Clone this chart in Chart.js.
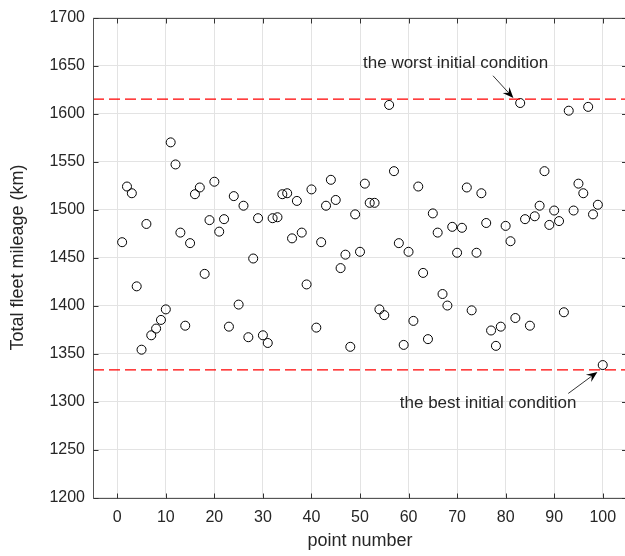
<!DOCTYPE html>
<html>
<head>
<meta charset="utf-8">
<script src="https://cdn.jsdelivr.net/npm/chart.js@4.4.1/dist/chart.umd.min.js"></script>
<style>
  html, body { margin: 0; padding: 0; background: #ffffff; overflow: hidden; }
  #wrap { width: 625px; height: 556px; overflow: hidden; position: relative; }
  canvas { display: block; }
</style>
</head>
<body>
<div id="wrap"><canvas id="c" width="640" height="556"></canvas></div>
<script>
// ---- data ----
const pointNumbers = [1,2,3,4,5,6,7,8,9,10,11,12,13,14,15,16,17,18,19,20,
  21,22,23,24,25,26,27,28,29,30,31,32,33,34,35,36,37,38,39,40,
  41,42,43,44,45,46,47,48,49,50,51,52,53,54,55,56,57,58,59,60,
  61,62,63,64,65,66,67,68,69,70,71,72,73,74,75,76,77,78,79,80,
  81,82,83,84,85,86,87,88,89,90,91,92,93,94,95,96,97,98,99,100];
const mileage = [1466,1524,1517,1420,1354,1485,1369,1376,1385,1396,
  1570,1547,1476,1379,1465,1516,1523,1433,1489,1529,
  1477,1490,1378,1514,1401,1504,1367,1449,1491,1369,
  1361,1491,1492,1516,1517,1470,1509,1476,1422,1521,
  1377,1466,1504,1531,1510,1439,1453,1357,1495,1456,
  1527,1507,1507,1396,1390,1609,1540,1465,1359,1456,
  1384,1524,1434,1365,1496,1476,1412,1400,1482,1455,
  1481,1523,1395,1455,1517,1486,1374,1358,1378,1483,
  1467,1387,1611,1490,1379,1493,1504,1540,1484,1499,
  1488,1393,1603,1499,1527,1517,1607,1495,1505,1338];
const worstLevel = 1615;
const bestLevel = 1333;
const xRange = [-5, 105];
const yRange = [1200, 1700];
const xTickLabels = [0,10,20,30,40,50,60,70,80,90,100];
const yTickLabels = [1200,1250,1300,1350,1400,1450,1500,1550,1600,1650,1700];
const xTitle = 'point number';
const yTitle = 'Total fleet mileage (km)';
// annotations in data units: text position, arrow start, arrow tip
const annotations = [
  { text: 'the worst initial condition', tx: 69.7, ty: 1652.6, ax0: 77.4, ay0: 1639.4, ax1: 81.6, ay1: 1616.2 },
  { text: 'the best initial condition',  tx: 76.4, ty: 1298.0, ax0: 92.9, ay0: 1308.4, ax1: 98.9, ay1: 1330.8 }
];

const FONT = '"Liberation Sans", Arial, Helvetica, sans-serif';
const TXT = '#262626';
const GRID = '#e3e3e3';

const overlay = {
  id: 'overlay',
  afterDraw(chart) {
    const ctx = chart.ctx;
    const xs = chart.scales.x, ys = chart.scales.y;
    const a = chart.chartArea;
    const xEnd = xs.getPixelForValue(xRange[1]);
    ctx.save();
    ctx.strokeStyle = '#555555';
    ctx.lineWidth = 1;
    const L0 = Math.round(a.left) + 0.5, T0 = Math.round(a.top) + 0.5, B0 = Math.round(a.bottom) + 0.5;
    ctx.beginPath();
    ctx.moveTo(xEnd, T0); ctx.lineTo(L0, T0); ctx.lineTo(L0, B0); ctx.lineTo(xEnd, B0);
    ctx.stroke();
    ctx.strokeStyle = '#333333';
    ctx.beginPath();
    xTickLabels.forEach(v => {
      const px = Math.round(xs.getPixelForValue(v)) + 0.5;
      ctx.moveTo(px, B0); ctx.lineTo(px, B0 - 5);
      ctx.moveTo(px, T0); ctx.lineTo(px, T0 + 5);
    });
    yTickLabels.forEach(v => {
      const py = Math.round(ys.getPixelForValue(v)) + 0.5;
      ctx.moveTo(L0, py); ctx.lineTo(L0 + 5, py);
      ctx.moveTo(xEnd, py); ctx.lineTo(xEnd - 5, py);
    });
    ctx.stroke();
    annotations.forEach(an => {
      ctx.fillStyle = TXT;
      ctx.font = '17px ' + FONT;
      ctx.textAlign = 'center';
      ctx.textBaseline = 'middle';
      ctx.fillText(an.text, xs.getPixelForValue(an.tx), ys.getPixelForValue(an.ty));
      const x0 = xs.getPixelForValue(an.ax0), y0 = ys.getPixelForValue(an.ay0);
      const x1 = xs.getPixelForValue(an.ax1), y1 = ys.getPixelForValue(an.ay1);
      const ang = Math.atan2(y1 - y0, x1 - x0);
      const L = 11, W = 4.5, back = 7;
      ctx.strokeStyle = '#000000';
      ctx.lineWidth = 0.8;
      ctx.beginPath();
      ctx.moveTo(x0, y0);
      ctx.lineTo(x1 - Math.cos(ang) * back, y1 - Math.sin(ang) * back);
      ctx.stroke();
      ctx.fillStyle = '#000000';
      ctx.beginPath();
      ctx.moveTo(x1, y1);
      const bx = x1 - Math.cos(ang) * L, by = y1 - Math.sin(ang) * L;
      const nx = -Math.sin(ang), ny = Math.cos(ang);
      ctx.lineTo(bx + nx * W, by + ny * W);
      ctx.lineTo(x1 - Math.cos(ang) * back, y1 - Math.sin(ang) * back);
      ctx.lineTo(bx - nx * W, by - ny * W);
      ctx.closePath();
      ctx.fill();
    });
    ctx.restore();
  }
};

const pts = pointNumbers.map((n, i) => ({ x: n, y: mileage[i] }));

new Chart(document.getElementById('c'), {
  type: 'scatter',
  data: {
    datasets: [
      { label: 'worst', type: 'line',
        data: [{ x: xRange[0], y: worstLevel }, { x: xRange[1], y: worstLevel }],
        borderColor: '#ff0000', borderWidth: 1.3, borderDash: [11, 5], pointRadius: 0, fill: false },
      { label: 'best', type: 'line',
        data: [{ x: xRange[0], y: bestLevel }, { x: xRange[1], y: bestLevel }],
        borderColor: '#ff0000', borderWidth: 1.3, borderDash: [11, 5], pointRadius: 0, fill: false },
      { label: 'points', data: pts, pointStyle: 'circle', pointRadius: 4.5, pointBorderWidth: 1,
        pointBorderColor: '#000000', pointBackgroundColor: 'rgba(0,0,0,0)', showLine: false }
    ]
  },
  options: {
    responsive: false,
    animation: false,
    devicePixelRatio: 1,
    layout: { padding: { top: 17, right: 13, left: 0, bottom: 0 } },
    plugins: { legend: { display: false }, tooltip: { enabled: false } },
    scales: {
      x: {
        type: 'linear',
        min: xRange[0], max: xRange[1],
        afterBuildTicks: s => { s.ticks = xTickLabels.map(v => ({ value: v })); },
        afterFit: s => { s.height = 58.5; },
        grid: { color: c => (c.tick && xTickLabels.includes(c.tick.value)) ? GRID : 'rgba(0,0,0,0)',
                drawTicks: false, lineWidth: 1 },
        border: { display: false },
        ticks: { color: TXT, font: { family: FONT, size: 16 }, padding: 10, maxRotation: 0, autoSkip: false,
                 callback: v => String(v) },
        title: { display: true, text: xTitle, color: TXT, font: { family: FONT, size: 18 }, padding: { top: 0, bottom: 4 } }
      },
      y: {
        type: 'linear',
        min: yRange[0], max: yRange[1],
        afterBuildTicks: s => { s.ticks = yTickLabels.map(v => ({ value: v })); },
        afterFit: s => { s.width = 93; },
        grid: { color: GRID, drawTicks: false, lineWidth: 1 },
        border: { display: false },
        ticks: { color: TXT, font: { family: FONT, size: 16 }, padding: 8, autoSkip: false,
                 callback: v => String(v) },
        title: { display: true, text: yTitle, color: TXT, font: { family: FONT, size: 18 }, padding: { top: 7, bottom: 0 } }
      }
    }
  },
  plugins: [overlay]
});
</script>
</body>
</html>
